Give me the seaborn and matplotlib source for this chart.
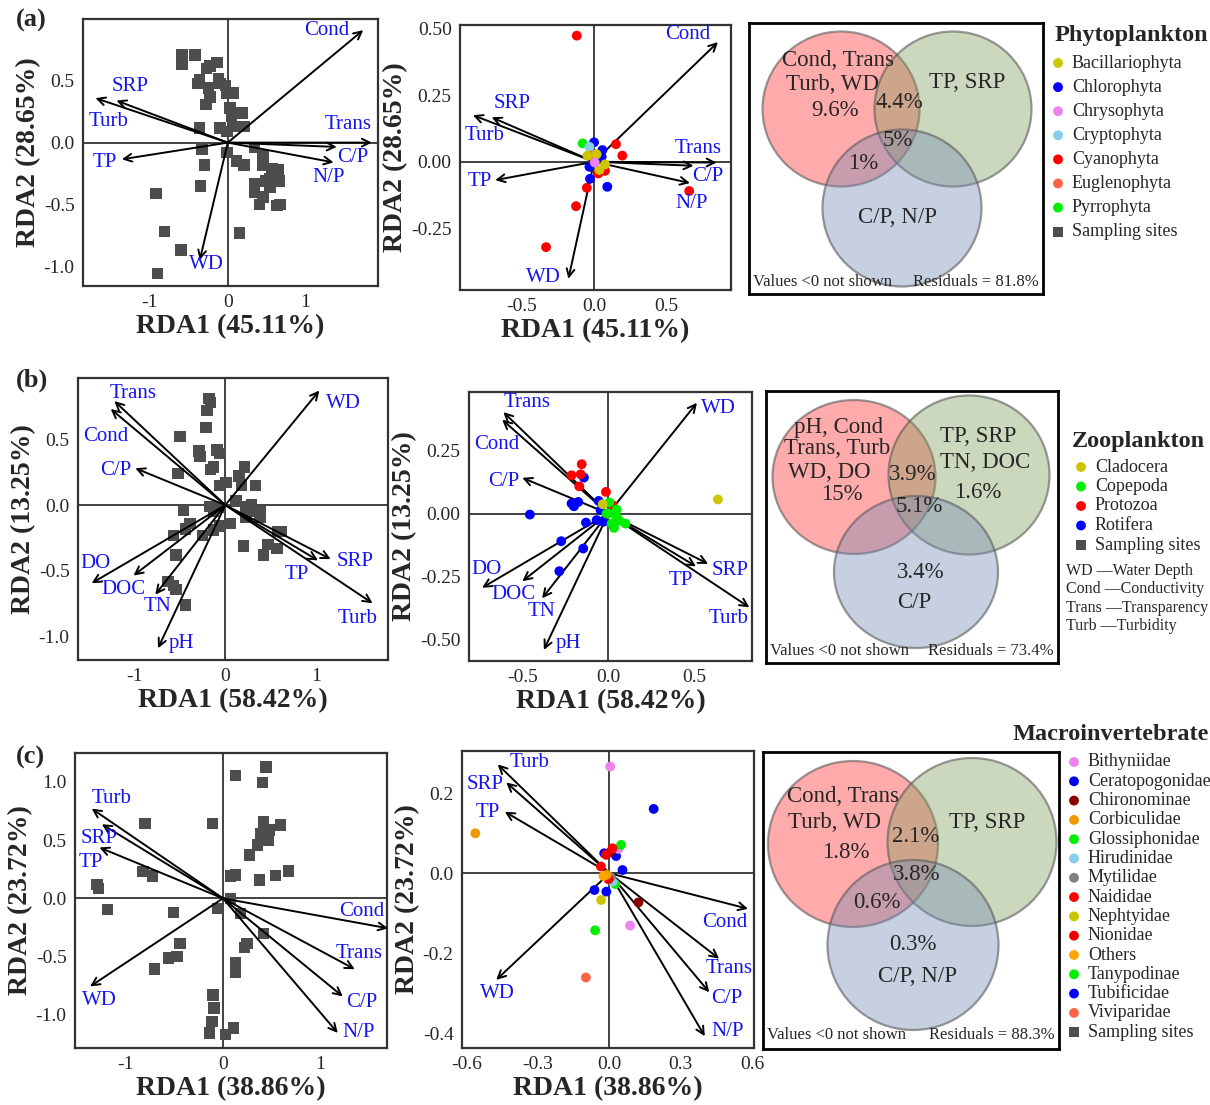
"""RDA biplots and variation-partitioning Venn panels for three assemblages."""

import matplotlib.pyplot as plt
import pandas as pd
import seaborn as sns
from matplotlib.patches import Ellipse
from matplotlib.ticker import FormatStrFormatter

W, H = 1210, 1105

# ---------------- (a) Phytoplankton ----------------
A_ENV = ["Cond", "Trans", "C/P", "N/P", "SRP", "Turb", "TP", "WD"]
A_SITE_ENV_X = [1.74, 1.85, 1.40, 1.36, -1.43, -1.70, -1.36, -0.36]
A_SITE_ENV_Y = [0.91, 0.0, -0.035, -0.16, 0.34, 0.36, -0.135, -0.95]
A_SPEC_ENV_X = [0.86, 0.85, 0.69, 0.665, -0.71, -0.84, -0.686, -0.178]
A_SPEC_ENV_Y = [0.45, -0.003, -0.015, -0.08, 0.167, 0.175, -0.069, -0.44]
A_SITE_X = [-0.59, -0.42, -0.59, -0.14, -0.23, -0.27, -0.36, -0.38, -0.12, -0.10,
            -0.25, -0.23, -0.28, -0.03, -0.01, 0.07, 0.03, 0.18, 0.05, -0.36,
            -0.10, 0.09, 0.21, -0.01, -0.33, -0.01, 0.34, -0.30, 0.11, 0.21,
            0.45, 0.45, 0.57, 0.65, 0.54, 0.49, 0.66, 0.54, 0.34, 0.34,
            0.45, 0.41, 0.63, 0.67, -0.35, -0.92, -0.81, -0.60, -0.90, 0.15]
A_SITE_Y = [0.71, 0.71, 0.63, 0.65, 0.62, 0.60, 0.51, 0.48, 0.52, 0.48,
            0.44, 0.37, 0.31, 0.46, 0.40, 0.40, 0.28, 0.24, 0.21, 0.12,
            0.12, 0.13, 0.13, 0.09, -0.05, -0.08, -0.04, -0.18, -0.15, -0.18,
            -0.11, -0.18, -0.21, -0.22, -0.29, -0.31, -0.31, -0.36, -0.33, -0.40,
            -0.44, -0.50, -0.51, -0.50, -0.35, -0.41, -0.72, -0.87, -1.06, -0.73]
A_SPEC_GROUP = (["Cyanophyta"] * 9 + ["Chlorophyta"] * 6 + ["Pyrrophyta", "Cryptophyta", "Euglenophyta"]
                + ["Bacillariophyta"] * 4 + ["Chrysophyta"])
A_SPEC_X = [-0.12, 0.152, 0.196, 0.66, -0.05, -0.125, -0.333, 0.03, 0.076,
            0.0, 0.058, 0.092, -0.028, -0.032, 0.053,
            -0.079, -0.032, -0.021,
            -0.046, 0.018, 0.076, 0.037,
            0.005]
A_SPEC_Y = [0.474, 0.066, 0.023, -0.11, -0.098, -0.167, -0.321, -0.044, -0.034,
            0.073, 0.044, -0.094, -0.064, -0.019, 0.019,
            0.069, 0.056, 0.023,
            0.023, 0.028, -0.01, -0.031,
            -0.003]
A_GROUPS = ["Bacillariophyta", "Chlorophyta", "Chrysophyta", "Cryptophyta",
            "Cyanophyta", "Euglenophyta", "Pyrrophyta"]
A_COLORS = ["#CDC500", "#0000FF", "#EE82EE", "#87CEEB", "#FF0000", "#FF6347", "#00EE00"]
A_VENN = ["Cond, Trans", "Turb, WD", "9.6%", "TP, SRP", "4.4%", "5%", "1%", "C/P, N/P"]
A_RESID = "81.8%"
A_AXES = ("RDA1 (45.11%)", "RDA2 (28.65%)")

# ---------------- (b) Zooplankton ----------------
B_ENV = ["Trans", "Cond", "C/P", "WD", "SRP", "TP", "Turb", "DO", "DOC", "TN", "pH"]
B_SITE_ENV_X = [-1.22, -1.26, -0.99, 1.035, 1.16, 1.02, 1.62, -1.47, -1.01, -0.77, -0.74]
B_SITE_ENV_Y = [0.79, 0.73, 0.28, 0.87, -0.41, -0.42, -0.745, -0.593, -0.535, -0.68, -1.087]
B_SPEC_ENV_X = [-0.61, -0.617, -0.50, 0.515, 0.58, 0.51, 0.82, -0.734, -0.50, -0.385, -0.375]
B_SPEC_ENV_Y = [0.403, 0.373, 0.142, 0.44, -0.20, -0.21, -0.373, -0.295, -0.269, -0.337, -0.542]
B_SITE_X = [-0.18, -0.16, -0.20, -0.21, -0.50, -0.29, -0.28, -0.09, -0.06, -0.13,
            -0.16, -0.52, 0.21, 0.15, 0.18, 0.33, 0.01, -0.06, 0.12, 0.23,
            0.29, 0.38, 0.31, 0.23, 0.38, 0.05, -0.46, -0.39, -0.44, -0.57,
            -0.25, -0.13, -0.06, -0.17, -0.06, -0.13, -0.54, 0.58, 0.62, 0.47,
            0.57, 0.42, 0.20, -0.63, -0.57, -0.54, -0.44]
B_SITE_Y = [0.81, 0.78, 0.72, 0.59, 0.52, 0.41, 0.37, 0.42, 0.39, 0.29,
            0.27, 0.24, 0.29, 0.22, 0.15, 0.15, 0.17, 0.15, 0.03, -0.01,
            0.0, -0.04, -0.05, -0.09, -0.09, -0.14, -0.04, -0.14, -0.18, -0.23,
            -0.23, -0.19, -0.16, -0.01, -0.02, -0.05, -0.38, -0.20, -0.20, -0.30,
            -0.33, -0.38, -0.31, -0.58, -0.61, -0.64, -0.76]
B_SPEC_GROUP = ["Rotifera"] * 13 + ["Protozoa"] * 6 + ["Copepoda"] * 9 + ["Cladocera"] * 2
B_SPEC_X = [-0.142, -0.214, -0.20, -0.175, -0.456, -0.13, -0.274, -0.285, -0.146, -0.056, -0.045, -0.068, -0.029,
            -0.155, -0.214, -0.161, -0.169, -0.014, 0.025,
            0.006, 0.049, 0.0, 0.049, 0.019, 0.033, 0.10, 0.064, -0.01,
            0.637, -0.033]
B_SPEC_Y = [0.143, 0.04, 0.029, 0.046, -0.004, -0.036, -0.11, -0.229, -0.139, 0.05, 0.013, -0.026, -0.033,
            0.196, 0.152, 0.156, 0.108, 0.086, 0.033,
            0.044, 0.016, 0.0, -0.013, -0.04, -0.057, -0.04, -0.029, 0.0,
            0.056, 0.037]
B_GROUPS = ["Cladocera", "Copepoda", "Protozoa", "Rotifera"]
B_COLORS = ["#CDC500", "#00EE00", "#FF0000", "#0000FF"]
B_VENN = ["pH, Cond", "Trans, Turb", "WD, DO", "15%", "TP, SRP", "TN, DOC", "1.6%",
          "3.9%", "5.1%", "3.4%", "C/P"]
B_RESID = "73.4%"
B_AXES = ("RDA1 (58.42%)", "RDA2 (13.25%)")
B_NOTES = ["WD \u2014Water Depth", "Cond \u2014Conductivity", "Trans \u2014Transparency", "Turb \u2014Turbidity"]

# ---------------- (c) Macroinvertebrate ----------------
C_ENV = ["Turb", "SRP", "TP", "WD", "Cond", "Trans", "C/P", "N/P"]
C_SITE_ENV_X = [-1.344, -1.24, -1.265, -1.36, 1.69, 1.35, 1.227, 1.176]
C_SITE_ENV_Y = [0.771, 0.637, 0.437, -0.757, -0.257, -0.609, -0.843, -1.157]
C_SPEC_ENV_X = [-0.47, -0.434, -0.44, -0.476, 0.583, 0.4615, 0.42, 0.401]
C_SPEC_ENV_Y = [0.2725, 0.2275, 0.154, -0.267, -0.089, -0.214, -0.298, -0.408]
C_SITE_X = [0.441, 0.126, 0.407, -0.797, -0.106, 0.417, 0.383, 0.479, 0.588, 0.468,
            0.356, 0.274, -0.82, -0.721, 0.075, 0.126, 0.376, 0.537, 0.674, -1.292,
            -1.275, -1.183, -0.506, 0.075, -0.055, 0.178, 0.417, 0.246, 0.222, -0.438,
            -0.472, -0.557, -0.701, 0.126, 0.13, -0.103, -0.092, -0.113, -0.14, 0.024,
            0.109]
C_SITE_Y = [1.129, 1.057, 0.994, 0.643, 0.643, 0.657, 0.557, 0.586, 0.629, 0.5,
            0.457, 0.371, 0.229, 0.191, 0.191, 0.2, 0.157, 0.194, 0.234, 0.12,
            0.086, -0.094, -0.12, 0.0, -0.086, -0.129, -0.3, -0.386, -0.423, -0.386,
            -0.5, -0.514, -0.609, -0.557, -0.637, -0.829, -0.943, -1.057, -1.157, -1.171,
            -1.114]
C_SPEC_GROUP = (["Ceratopogonidae"] * 3 + ["Tubificidae"] * 3 + ["Bithyniidae"] * 3 + ["Chironominae"] * 2
                + ["Glossiphonidae"] * 2 + ["Tanypodinae", "Hirudinidae", "Mytilidae"]
                + ["Naididae"] * 2 + ["Nionidae"] * 2 + ["Nephtyidae", "Viviparidae"]
                + ["Corbiculidae"] * 2 + ["Others"])
C_SPEC_X = [0.186, 0.028, -0.063, -0.022, 0.055, -0.013, 0.003, 0.087, 0.038, 0.003, 0.122,
            0.049, 0.024, -0.06, 0.013, 0.005, 0.013, -0.036, -0.004, -0.014, -0.035, -0.099,
            -0.564, -0.011, -0.025]
C_SPEC_Y = [0.161, 0.043, -0.042, 0.05, 0.008, -0.046, 0.267, -0.131, 0.061, 0.0525, -0.073,
            0.071, -0.027, -0.143, -0.021, -0.01, 0.0625, 0.017, -0.015, 0.046, -0.067, -0.261,
            0.1, -0.004, -0.007]
C_GROUPS = ["Bithyniidae", "Ceratopogonidae", "Chironominae", "Corbiculidae", "Glossiphonidae",
            "Hirudinidae", "Mytilidae", "Naididae", "Nephtyidae", "Nionidae", "Others",
            "Tanypodinae", "Tubificidae", "Viviparidae"]
C_COLORS = ["#EE82EE", "#0000EE", "#8B0000", "#EE9A00", "#00EE00", "#87CEEB", "#808080",
            "#FF0000", "#CDC500", "#EE0000", "#FFA500", "#00EE00", "#0000FF", "#FF6347"]
C_VENN = ["Cond, Trans", "Turb, WD", "1.8%", "TP, SRP", "2.1%", "3.8%", "0.6%", "0.3%", "C/P, N/P"]
C_RESID = "88.3%"
C_AXES = ("RDA1 (38.86%)", "RDA2 (23.72%)")

SITE_COLOR = "#4D4D4D"
LABEL_BLUE = "#1414F0"
FRAME = "#333333"

# ---------------- layout (figure pixels) ----------------
LAYOUT = {
    "a": dict(site_box=(83, 19, 378, 286), spec_box=(460, 25, 731, 290), venn_box=(749, 23, 1043, 294),
              site_lim=((-1.86, 1.93), (-1.16, 1.0)), spec_lim=((-0.93, 0.95), (-0.482, 0.514)),
              site_ticks=([-1, 0, 1], [0.5, 0.0, -0.5, -1.0]),
              spec_ticks=([-0.5, 0.0, 0.5], [0.5, 0.25, 0.0, -0.25]),
              spec_fmt=("%.1f", "%.2f"),
              site_lab=[(1.27, 0.91), (1.55, 0.15), (1.61, -0.12), (1.29, -0.28), (-1.25, 0.45),
                        (-1.53, 0.17), (-1.58, -0.16), (-0.28, -0.99)],
              spec_lab=[(0.65, 0.48), (0.72, 0.05), (0.79, -0.056), (0.68, -0.157), (-0.57, 0.22),
                        (-0.76, 0.10), (-0.79, -0.075), (-0.35, -0.436)],
              circles=[(841, 109, 157, 155), (953, 109, 157, 155), (902, 208, 159, 157)],
              venn_pos=[(838, 60), (833, 84), (835, 110), (967, 83), (899, 103), (898, 140),
                        (863, 164), (897, 218)],
              resid_y=282, tag=(16, 20)),
    "b": dict(site_box=(78, 378, 388, 660), spec_box=(469, 392, 752, 661), venn_box=(766, 391, 1058, 663),
              site_lim=((-1.62, 1.79), (-1.176, 0.965)), spec_lim=((-0.81, 0.835), (-0.586, 0.483)),
              site_ticks=([-1, 0, 1], [0.5, 0.0, -0.5, -1.0]),
              spec_ticks=([-0.5, 0.0, 0.5], [0.25, 0.0, -0.25, -0.5]),
              spec_fmt=("%.1f", "%.2f"),
              site_lab=[(-1.01, 0.85), (-1.31, 0.52), (-1.20, 0.26), (1.30, 0.775), (1.43, -0.43),
                        (0.785, -0.53), (1.46, -0.86), (-1.43, -0.44), (-1.12, -0.64), (-0.75, -0.77),
                        (-0.48, -1.05)],
              spec_lab=[(-0.47, 0.44), (-0.65, 0.275), (-0.61, 0.128), (0.64, 0.417), (0.71, -0.225),
                        (0.42, -0.265), (0.70, -0.417), (-0.71, -0.222), (-0.55, -0.32), (-0.39, -0.39),
                        (-0.23, -0.516)],
              circles=[(854, 477, 163, 154), (969, 475, 161, 159), (916, 572, 164, 152)],
              venn_pos=[(839, 428), (837, 449), (829, 473), (842, 495), (978, 436), (985, 463),
                        (978, 492), (913, 475), (919, 506), (921, 572), (914, 603)],
              resid_y=651, tag=(16, 380)),
    "c": dict(site_box=(75, 753, 387, 1048), spec_box=(462, 751, 754, 1048), venn_box=(763, 752, 1059, 1049),
              site_lim=((-1.515, 1.68), (-1.286, 1.249)), spec_lim=((-0.62, 0.608), (-0.4375, 0.306)),
              site_ticks=([-1, 0, 1], [1.0, 0.5, 0.0, -0.5, -1.0]),
              spec_ticks=([-0.6, -0.3, 0.0, 0.3, 0.6], [0.2, 0.0, -0.2, -0.4]),
              spec_fmt=("%.1f", "%.1f"),
              site_lab=[(-1.145, 0.857), (-1.265, 0.514), (-1.35, 0.306), (-1.27, -0.88), (1.425, -0.114),
                        (1.39, -0.471), (1.425, -0.894), (1.39, -1.157)],
              spec_lab=[(-0.336, 0.2775), (-0.524, 0.221), (-0.51, 0.152), (-0.473, -0.302), (0.485, -0.1225),
                        (0.502, -0.2375), (0.495, -0.3125), (0.495, -0.396)],
              circles=[(853, 844, 170, 166), (972, 842, 169, 168), (913, 945, 171, 170)],
              venn_pos=[(843, 797), (834, 822), (846, 852), (987, 822), (916, 837), (917, 874),
                        (877, 902), (913, 945), (917, 976)],
              resid_y=1035, tag=(16, 757)),
}
VENN_FILLS = [(1.0, 0.0, 0.0, 0.33), (0.50, 0.62, 0.36, 0.40), (0.46, 0.54, 0.71, 0.40)]


def px_rect(box):
    l, t, r, b = box
    return [l / W, 1 - b / H, (r - l) / W, (b - t) / H]


def style_axes(ax, lim, ticks, fmt):
    ax.set_xlim(*lim[0])
    ax.set_ylim(*lim[1])
    ax.set_xticks(ticks[0])
    ax.set_yticks(ticks[1])
    ax.xaxis.set_major_formatter(FormatStrFormatter(fmt[0]))
    ax.yaxis.set_major_formatter(FormatStrFormatter(fmt[1]))
    ax.tick_params(direction="out", length=4, width=1.2, color=FRAME, labelsize=14, pad=2)
    for s in ax.spines.values():
        s.set_color(FRAME)
        s.set_linewidth(1.6)
    ax.axhline(0, color=FRAME, lw=1.3, zorder=0.5)
    ax.axvline(0, color=FRAME, lw=1.3, zorder=0.5)


def draw_arrows(ax, names, xs, ys, labels, zorder):
    for name, x, y, (lx, ly) in zip(names, xs, ys, labels):
        ax.annotate("", xy=(x, y), xytext=(0, 0), annotation_clip=False, zorder=zorder,
                    arrowprops=dict(arrowstyle="->", lw=1.4, color="black", shrinkA=0, shrinkB=0,
                                    mutation_scale=14))
        ax.text(lx, ly, name, color=LABEL_BLUE, fontsize=15, ha="center", va="center", zorder=5)


def rda_row(fig, key, sites, species, env, env_site, env_spec, groups, colors, axes_names):
    lay = LAYOUT[key]
    # sites biplot
    ax1 = fig.add_axes(px_rect(lay["site_box"]))
    sns.scatterplot(data=sites, x="x", y="y", marker="s", color=SITE_COLOR, s=68,
                    edgecolor="none", legend=False, ax=ax1, zorder=2)
    style_axes(ax1, lay["site_lim"], lay["site_ticks"], ("%d", "%.1f"))
    draw_arrows(ax1, env, env_site[0], env_site[1], lay["site_lab"], zorder=3)
    # species biplot
    ax2 = fig.add_axes(px_rect(lay["spec_box"]))
    style_axes(ax2, lay["spec_lim"], lay["spec_ticks"], lay["spec_fmt"])
    draw_arrows(ax2, env, env_spec[0], env_spec[1], lay["spec_lab"], zorder=2)
    sns.scatterplot(data=species, x="x", y="y", hue="group", hue_order=groups,
                    palette=dict(zip(groups, colors)), s=50, edgecolor="none",
                    legend=False, ax=ax2, zorder=4)
    for ax in (ax1, ax2):
        ax.set_xlabel(axes_names[0], fontsize=20, fontweight="bold", labelpad=2)
        ax.set_ylabel(axes_names[1], fontsize=20, fontweight="bold", labelpad=2)
    return ax1, ax2


def venn_panel(fig, key, texts, residual):
    lay = LAYOUT[key]
    l, t, r, b = lay["venn_box"]
    ax = fig.add_axes(px_rect(lay["venn_box"]))
    ax.set_xlim(l, r)
    ax.set_ylim(b, t)
    ax.set_xticks([])
    ax.set_yticks([])
    for s in ax.spines.values():
        s.set_color("black")
        s.set_linewidth(2)
    for (cx, cy, w, h), fc in zip(lay["circles"], VENN_FILLS):
        ax.add_patch(Ellipse((cx, cy), w, h, fc=fc, ec=(0.35, 0.35, 0.35, 0.6), lw=1.6))
    for txt, (x, y) in zip(texts, lay["venn_pos"]):
        ax.text(x, y, txt, ha="center", va="center", fontsize=16.5)
    ax.text(l + 4, lay["resid_y"], "Values <0 not shown", ha="left", va="center", fontsize=12)
    ax.text(r - 4, lay["resid_y"], f"Residuals = {residual}", ha="right", va="center", fontsize=12)


def key_panel(kax, title, title_xy, title_ha, labels, colors, x0, y0, step):
    kax.text(title_xy[0], title_xy[1], title, fontsize=17.5, fontweight="bold", ha=title_ha, va="center")
    for i, (lab, col) in enumerate(zip(labels + ["Sampling sites"], colors + [SITE_COLOR])):
        marker = "s" if lab == "Sampling sites" else "o"
        kax.scatter([x0], [y0 + i * step], s=50, marker=marker, color=col, edgecolor="none")
        kax.text(x0 + 14, y0 + i * step, lab, fontsize=13, ha="left", va="center")


def frame(xs, ys, groups=None):
    df = pd.DataFrame({"x": xs, "y": ys})
    if groups is not None:
        df["group"] = groups
    return df


def main():
    sns.set_theme(style="white")
    plt.rcParams["font.family"] = ["Liberation Serif", "DejaVu Serif"]
    plt.rcParams["axes.unicode_minus"] = False

    fig = plt.figure(figsize=(W / 100, H / 100), dpi=100)

    rda_row(fig, "a", frame(A_SITE_X, A_SITE_Y), frame(A_SPEC_X, A_SPEC_Y, A_SPEC_GROUP), A_ENV,
            (A_SITE_ENV_X, A_SITE_ENV_Y), (A_SPEC_ENV_X, A_SPEC_ENV_Y), A_GROUPS, A_COLORS, A_AXES)
    rda_row(fig, "b", frame(B_SITE_X, B_SITE_Y), frame(B_SPEC_X, B_SPEC_Y, B_SPEC_GROUP), B_ENV,
            (B_SITE_ENV_X, B_SITE_ENV_Y), (B_SPEC_ENV_X, B_SPEC_ENV_Y), B_GROUPS, B_COLORS, B_AXES)
    rda_row(fig, "c", frame(C_SITE_X, C_SITE_Y), frame(C_SPEC_X, C_SPEC_Y, C_SPEC_GROUP), C_ENV,
            (C_SITE_ENV_X, C_SITE_ENV_Y), (C_SPEC_ENV_X, C_SPEC_ENV_Y), C_GROUPS, C_COLORS, C_AXES)

    venn_panel(fig, "a", A_VENN, A_RESID)
    venn_panel(fig, "b", B_VENN, B_RESID)
    venn_panel(fig, "c", C_VENN, C_RESID)

    # overlay in figure pixels for keys and panel tags
    kax = fig.add_axes([0, 0, 1, 1], facecolor="none")
    kax.set_xlim(0, W)
    kax.set_ylim(H, 0)
    kax.axis("off")
    key_panel(kax, "Phytoplankton", (1055, 35), "left", A_GROUPS, A_COLORS, 1058, 63, 24.1)
    key_panel(kax, "Zooplankton", (1072, 441), "left", B_GROUPS, B_COLORS, 1081, 467, 19.5)
    kax.text(1066, 563, "\n".join(B_NOTES), fontsize=11.5, ha="left", va="top", linespacing=1.2)
    key_panel(kax, "Macroinvertebrate", (1209, 735), "right", C_GROUPS, C_COLORS, 1074, 762, 19.3)
    for key, tag in zip("abc", ["(a)", "(b)", "(c)"]):
        x, y = LAYOUT[key]["tag"]
        kax.text(x, y, tag, fontsize=19, fontweight="bold", ha="left", va="center")

    fig.savefig("out.png", dpi=100)
    plt.close(fig)


if __name__ == "__main__":
    main()
